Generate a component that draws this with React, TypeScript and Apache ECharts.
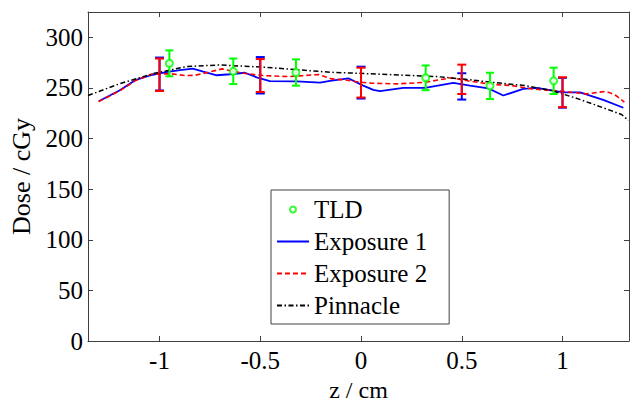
import React, { useEffect, useRef } from 'react';
import * as echarts from 'echarts';

const FONT = 'Liberation Serif';

// Exposure 1 (blue solid)
const exp1Z = [-1.302, -1.199, -1.117, -1.034, -0.968, -0.898, -0.835, -0.783, -0.716, -0.65, -0.576, -0.518, -0.452, -0.319, -0.203, -0.154, -0.063, 0.011, 0.061, 0.094, 0.21, 0.318, 0.458, 0.541, 0.632, 0.706, 0.805, 0.872, 1.004, 1.087, 1.202, 1.302];
const exp1Dose = [236.9, 247.4, 258, 263, 265.5, 267.5, 269, 266, 262.5, 263.5, 265, 260.5, 256.8, 256.5, 255.3, 257, 259.5, 252.3, 248.1, 246.8, 250, 250, 255, 252.3, 249.5, 242.5, 249, 250, 245.7, 245.7, 238.2, 230.4];

// Exposure 2 (red dashed)
const exp2Z = [-1.302, -1.199, -1.117, -1.034, -0.94, -0.874, -0.824, -0.758, -0.69, -0.636, -0.568, -0.485, -0.36, -0.21, -0.145, -0.08, -0.03, 0.05, 0.18, 0.316, 0.448, 0.53, 0.65, 0.75, 0.85, 0.98, 1.12, 1.216, 1.266, 1.307];
const exp2Dose = [236.5, 247, 257.5, 263.9, 263.9, 262.2, 262.5, 265.4, 268.8, 266.5, 264, 262.2, 261.2, 263.2, 258.9, 257.9, 256.3, 254.7, 254, 255.5, 260, 257, 253.5, 252.3, 249, 247, 244.1, 246.7, 242.5, 236];

// Pinnacle (black dash-dot)
const pinZ = [-1.355, -1.2, -1.034, -0.866, -0.703, -0.485, -0.319, -0.154, 0.045, 0.376, 0.541, 0.65, 0.815, 0.946, 1.078, 1.193, 1.293, 1.327];
const pinDose = [242.5, 254, 264, 271.1, 272.7, 270.5, 268, 265.5, 264, 261.2, 258, 255.5, 252.3, 247.4, 239.2, 231, 223.8, 218];

// TLD measurements
const tldZ = [-0.951, -0.634, -0.323, 0.321, 0.64, 0.956];
const tldDose = [274.3, 266.4, 265.2, 260, 252, 257];
const tldErr = [12.8, 12.6, 13, 12.2, 13, 13];

// Film error bars
const barZ = [-1, -0.5, 0, 0.5, 1];
const exp1Low = [247.5, 244.5, 239.5, 238.5, 230.5];
const exp1High = [280, 280.5, 271, 264.5, 260];
const exp2Low = [247, 246, 240.5, 244, 231];
const exp2High = [279, 278.5, 270, 273, 260.5];

const xTicks = [-1, -0.5, 0, 0.5, 1];
const yTicks = [0, 50, 100, 150, 200, 250, 300];

const AXIS_COLOR = '#404040';

function zip(a: number[], b: number[]) {
  return a.map((v, i) => [v, b[i]]);
}

function errRender(color: string, half: number) {
  return (params: any, api: any) => {
    const x = api.value(0);
    const lo = api.value(1);
    const hi = api.value(2);
    const p1 = api.coord([x, lo]);
    const p2 = api.coord([x, hi]);
    const style = { stroke: color, lineWidth: 2 };
    return {
      type: 'group',
      children: [
        { type: 'line', shape: { x1: p1[0], y1: p1[1], x2: p2[0], y2: p2[1] }, style },
        { type: 'line', shape: { x1: p1[0] - half, y1: p1[1], x2: p1[0] + half, y2: p1[1] }, style },
        { type: 'line', shape: { x1: p2[0] - half, y1: p2[1], x2: p2[0] + half, y2: p2[1] }, style },
      ],
    };
  };
}

export default function App() {
  const ref = useRef<HTMLDivElement>(null);
  useEffect(() => {
    if (!ref.current) return;
    const chart = echarts.init(ref.current, undefined, { renderer: 'svg' });
    const textStyle = { fontFamily: FONT, fontSize: 25, color: '#000' };
    const xBase = {
      type: 'value',
      min: -1.355,
      max: 1.33,
      splitLine: { show: false },
      axisLine: { onZero: false, lineStyle: { color: AXIS_COLOR, width: 1 } },
      axisTick: { inside: true, length: 5, customValues: xTicks, lineStyle: { color: AXIS_COLOR } },
    };
    const yBase = {
      type: 'value',
      min: 0,
      max: 325,
      splitLine: { show: false },
      axisLine: { onZero: false, lineStyle: { color: AXIS_COLOR, width: 1 } },
      axisTick: { inside: true, length: 5, customValues: yTicks, lineStyle: { color: AXIS_COLOR } },
    };
    const noDot = { opacity: 0 };
    chart.setOption({
      animation: false,
      backgroundColor: '#fff',
      grid: { left: 88, right: 1, top: 12, bottom: 58, containLabel: false, outerBoundsMode: 'none' },
      xAxis: [
        {
          ...xBase,
          position: 'bottom',
          axisLabel: {
            ...textStyle,
            margin: 7,
            customValues: xTicks,
            formatter: (v: number) => String(v),
          },
          name: 'z / cm',
          nameLocation: 'middle',
          nameGap: 28,
          nameTextStyle: { ...textStyle, fontSize: 24, lineHeight: 24 },
        },
        { ...xBase, position: 'top', axisLabel: { show: false } },
      ],
      yAxis: [
        {
          ...yBase,
          position: 'left',
          axisLabel: { ...textStyle, margin: 5, customValues: yTicks },
          name: 'Dose / cGy',
          nameLocation: 'middle',
          nameRotate: 90,
          nameGap: 50,
          nameTextStyle: { ...textStyle, fontSize: 26 },
        },
        { ...yBase, position: 'right', axisLabel: { show: false } },
      ],
      legend: {
        orient: 'vertical',
        left: 271,
        top: 190,
        padding: [7, 22, 6, 5],
        itemWidth: 32,
        itemHeight: 6,
        itemGap: 7,
        borderColor: '#404040',
        borderWidth: 1,
        backgroundColor: '#fff',
        selectedMode: false,
        textStyle: { ...textStyle },
        data: [
          { name: 'TLD', icon: 'emptyCircle' },
          { name: 'Exposure 1', itemStyle: noDot },
          { name: 'Exposure 2', itemStyle: noDot },
          { name: 'Pinnacle', itemStyle: noDot },
        ],
      },
      series: [
        {
          name: 'Exposure 1',
          type: 'line',
          data: zip(exp1Z, exp1Dose),
          symbol: 'none',
          showSymbol: false,
          lineStyle: { color: '#0000ff', width: 1.8 },
          itemStyle: { color: '#0000ff' },
          z: 2,
        },
        {
          name: 'Exposure 2',
          type: 'line',
          data: zip(exp2Z, exp2Dose),
          symbol: 'none',
          showSymbol: false,
          lineStyle: { color: '#ff0000', width: 1.6, type: [5, 3] },
          itemStyle: { color: '#ff0000' },
          z: 3,
        },
        {
          name: 'Pinnacle',
          type: 'line',
          data: zip(pinZ, pinDose),
          symbol: 'none',
          showSymbol: false,
          lineStyle: { color: '#000000', width: 1.5, type: [5, 2.5, 1.5, 2.5] },
          itemStyle: { color: '#000000' },
          z: 4,
        },
        {
          name: 'Exposure 1 error',
          type: 'custom',
          renderItem: errRender('#0000ff', 4.5),
          data: barZ.map((z, i) => [z, exp1Low[i], exp1High[i]]),
          encode: { x: 0, y: [1, 2] },
          silent: true,
          z: 5,
        },
        {
          name: 'Exposure 2 error',
          type: 'custom',
          renderItem: errRender('#ff0000', 4.5),
          data: barZ.map((z, i) => [z, exp2Low[i], exp2High[i]]),
          encode: { x: 0, y: [1, 2] },
          silent: true,
          z: 6,
        },
        {
          name: 'TLD error',
          type: 'custom',
          renderItem: errRender('#00ff00', 4),
          data: tldZ.map((z, i) => [z, tldDose[i] - tldErr[i], tldDose[i] + tldErr[i]]),
          encode: { x: 0, y: [1, 2] },
          silent: true,
          z: 7,
        },
        {
          name: 'TLD',
          type: 'scatter',
          data: zip(tldZ, tldDose),
          symbol: 'emptyCircle',
          symbolSize: 7,
          itemStyle: { color: '#00ff00', borderWidth: 1.5 },
          z: 8,
        },
      ],
    });
    return () => chart.dispose();
  }, []);
  return (
    <div
      ref={ref}
      style={{ position: 'fixed', left: 0, top: 0, width: 630, height: 399, background: '#fff' }}
    />
  );
}
